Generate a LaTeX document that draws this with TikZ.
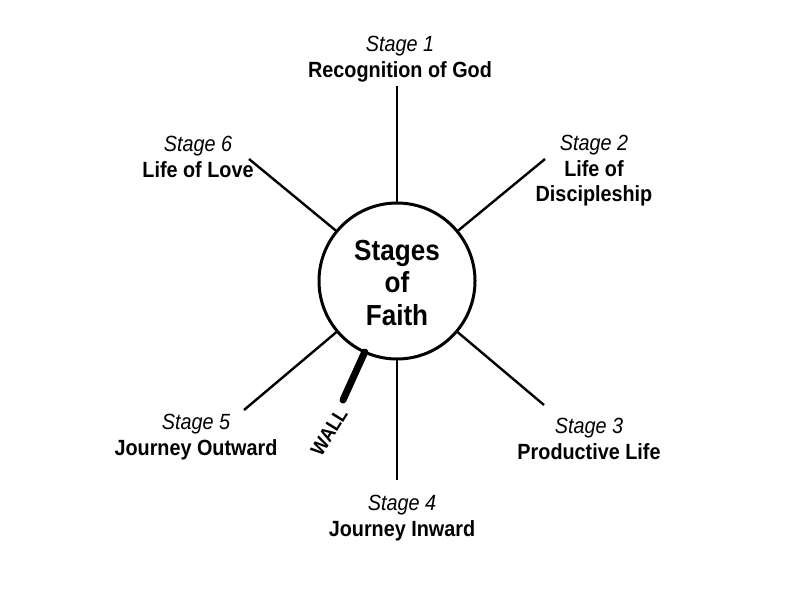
\documentclass[tikz,border=0pt]{standalone}
\usepackage{fontspec}
\setmainfont{Liberation Sans}[FakeStretch=0.9]
\begin{document}
\begin{tikzpicture}[x=1pt,y=-1pt,
  spoke/.style={line width=2.4pt},
  hub/.style={circle, draw, line width=3pt, minimum size=156pt, inner sep=0pt, outer sep=0pt},
  lab/.style={align=center, font=\fontsize{22}{25.5}\selectfont, inner sep=0pt},
  wallline/.style={line width=7pt, line cap=round},
  walltext/.style={font=\fontsize{20}{20}\selectfont\bfseries, inner sep=0pt}]
\useasboundingbox (0,0) rectangle (802,590);
\node[hub] (c) at (397,281) {};
\node[align=center, font=\fontsize{29}{32.5}\selectfont\bfseries] (t) at (397,283) {Stages\\of\\Faith};
\coordinate (e1) at (397,86);
\coordinate (e2) at (545,159);
\coordinate (e3) at (544,405);
\coordinate (e4) at (397,480);
\coordinate (e5) at (244,410);
\coordinate (e6) at (249,159);
\coordinate (ew) at (343,400);
\draw[spoke] (c) -- (e1);
\draw[spoke] (c) -- (e2);
\draw[spoke] (c) -- (e3);
\draw[spoke] (c) -- (e4);
\draw[spoke] (c) -- (e5);
\draw[spoke] (c) -- (e6);
\draw[wallline] (c) -- (ew);
\node[walltext, rotate=58] (w) at (329,432) {WALL};
\node[lab] (s1) at (400,59) {\textit{Stage 1}\\\textbf{Recognition of God}};
\node[lab] (s2) at (594,171) {\textit{Stage 2}\\\textbf{Life of}\\\textbf{Discipleship}};
\node[lab] (s3) at (589,439) {\textit{Stage 3}\\\textbf{Productive Life}};
\node[lab] (s4) at (402,518) {\textit{Stage 4}\\\textbf{Journey Inward}};
\node[lab] (s5) at (196,437) {\textit{Stage 5}\\\textbf{Journey Outward}};
\node[lab] (s6) at (198,157) {\textit{Stage 6}\\\textbf{Life of Love}};
\end{tikzpicture}
\end{document}
